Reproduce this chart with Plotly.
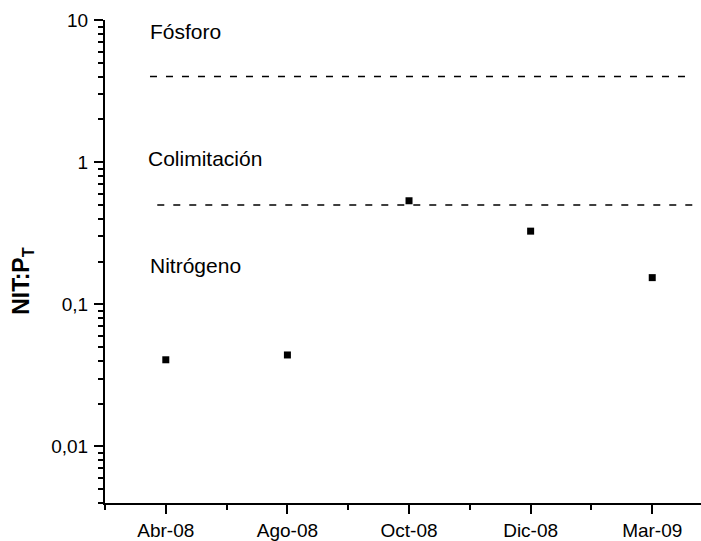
import math
import plotly.graph_objects as go

# Sampling campaigns and the measured NIT:PT ratio
campaigns = ["Abr-08", "Ago-08", "Oct-08", "Dic-08", "Mar-09"]
campaign_pos = [1, 2, 3, 4, 5]
nit_pt = [0.0407, 0.0440, 0.535, 0.327, 0.154]

# Limitation thresholds (NIT:PT)
phosphorus_limit = 4.0
colimitation_limit = 0.5

y_tickvals = [0.01, 0.1, 1, 10]
y_ticktext = ["0,01", "0,1", "1", "10"]

FONT = "Arial, 'Liberation Sans', sans-serif"

# minor ticks on every decade digit
minor_vals = []
for e in range(-3, 1):
    for d in range(2, 10):
        v = d * 10 ** e
        if 0.004 <= v <= 10:
            minor_vals.append(v)

fig = go.Figure()

fig.add_trace(go.Scatter(
    x=[0.87, 5.335], y=[phosphorus_limit, phosphorus_limit],
    mode="lines", line=dict(color="black", width=1.5, dash="7px,9px"),
    hoverinfo="skip", showlegend=False))
fig.add_trace(go.Scatter(
    x=[0.93, 5.335], y=[colimitation_limit, colimitation_limit],
    mode="lines", line=dict(color="black", width=1.5, dash="7px,9px"),
    hoverinfo="skip", showlegend=False))

fig.add_trace(go.Scatter(
    x=campaign_pos, y=nit_pt, mode="markers",
    marker=dict(symbol="square", size=7, color="black"),
    showlegend=False))

labels = [("Fósforo", 0.85, 0.92), ("Colimitación", 0.835, 0.029), ("Nitrógeno", 0.853, -0.727)]
for txt, xv, yv in labels:
    fig.add_annotation(x=xv, y=yv, xref="x", yref="y", text=txt, showarrow=False,
                       xanchor="left", yanchor="middle",
                       font=dict(family=FONT, size=21, color="black"))

fig.add_annotation(x=-0.1376, y=0.46, xref="paper", yref="paper",
                   text="<b>NIT:P<sub>T</sub></b>",
                   textangle=-90, showarrow=False, xanchor="center", yanchor="middle",
                   font=dict(family=FONT, size=23, color="black"))

fig.update_layout(
    width=701, height=541,
    margin=dict(l=105, r=0, t=20, b=33),
    paper_bgcolor="white", plot_bgcolor="white",
    font=dict(family=FONT, color="black"),
    xaxis=dict(
        range=[0.5, 5.401], showgrid=False, zeroline=False,
        showline=True, linecolor="black", linewidth=2,
        tickvals=campaign_pos, ticktext=campaigns,
        ticks="outside", ticklen=9, tickwidth=2, tickcolor="black",
        tickfont=dict(family=FONT, size=19, color="black"),
        minor=dict(tick0=0.5, dtick=1, ticks="outside", ticklen=5,
                   tickwidth=2, tickcolor="black", showgrid=False),
    ),
    yaxis=dict(
        type="log", range=[math.log10(0.004), 1], showgrid=False, zeroline=False,
        showline=True, linecolor="black", linewidth=2,
        tickvals=y_tickvals, ticktext=y_ticktext,
        ticks="outside", ticklen=9, tickwidth=2, tickcolor="black",
        ticklabelstandoff=2,
        tickfont=dict(family=FONT, size=19, color="black"),
        minor=dict(tickvals=minor_vals, ticks="outside", ticklen=5,
                   tickwidth=2, tickcolor="black", showgrid=False),
    ),
)

fig.write_html("out.html")
